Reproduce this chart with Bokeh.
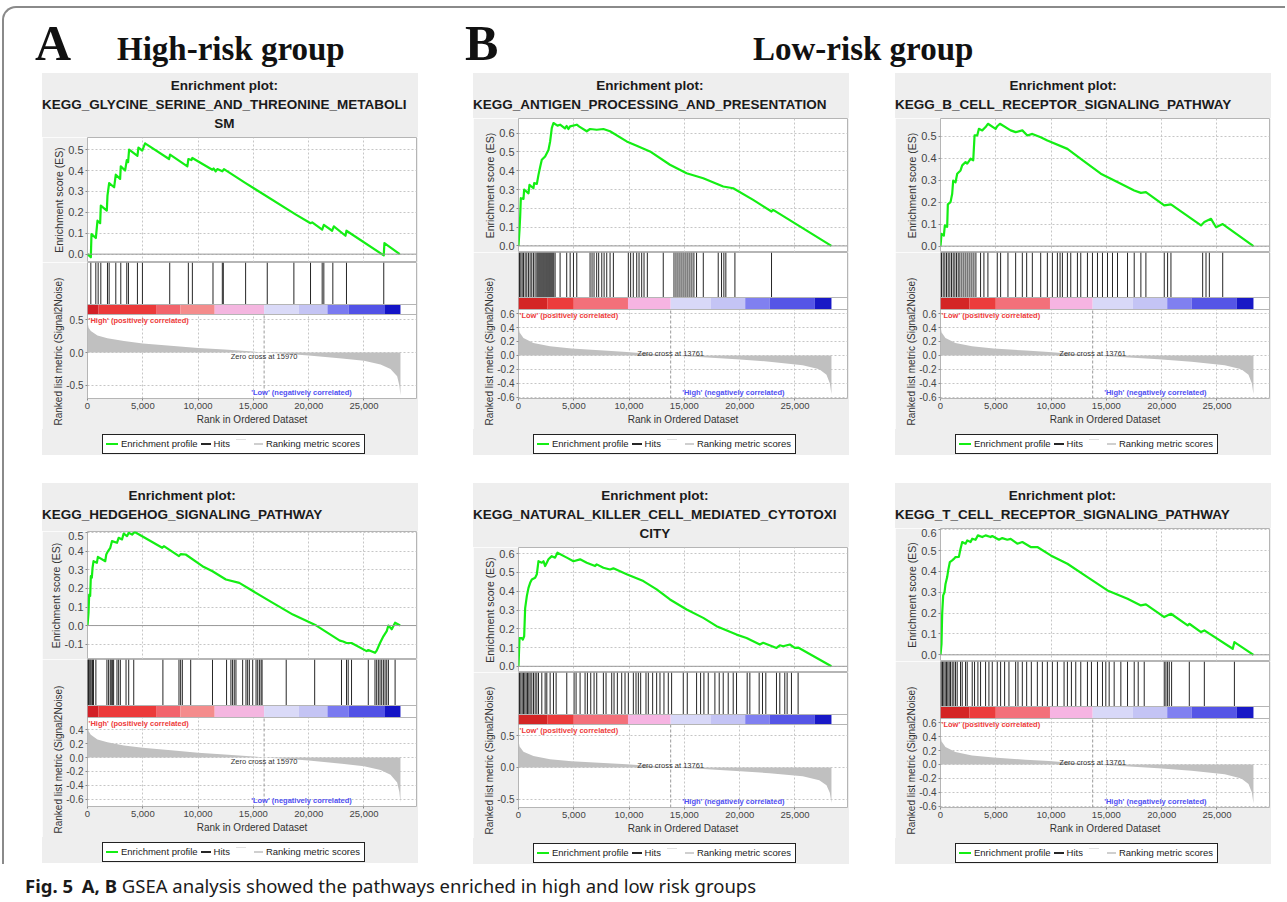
from bokeh.plotting import figure
from bokeh.models import (Range1d, Label, Span, SingleIntervalTicker,
                          NumeralTickFormatter, PrintfTickFormatter, Spacer, Div, Title)
from bokeh.layouts import column, row
from bokeh.embed import file_html
from bokeh.resources import INLINE

# ---------------------------------------------------------------- data
X_MAX = 29750
HIGH_ZERO_CROSS = 15970
LOW_ZERO_CROSS = 13761

HIGH_METRIC_RANK = [0, 100, 300, 900, 1800, 3300, 5000, 7800, 10000, 12400, 15000, 15970,
                    18800, 20000, 23000, 25000, 26500, 27400, 28000, 28200, 28300]
HIGH_METRIC_VALUE = [0.47, 0.38, 0.33, 0.26, 0.22, 0.175, 0.14, 0.10, 0.07, 0.045, 0.015, 0.0,
                     -0.028, -0.045, -0.09, -0.125, -0.18, -0.25, -0.36, -0.5, -0.65]
LOW_METRIC_RANK = [0, 100, 450, 1350, 2850, 4800, 7700, 9800, 13761, 16700, 19700, 22700,
                   25700, 27200, 27850, 28150, 28300]
LOW_METRIC_VALUE = [0.43, 0.33, 0.25, 0.18, 0.13, 0.10, 0.07, 0.05, 0.0, -0.025, -0.055, -0.09,
                    -0.14, -0.2, -0.28, -0.4, -0.56]

HIGH_BAND_EDGES = [0, 1000, 6200, 8400, 11500, 15970, 19100, 21700, 23600, 26900, 28300]
HIGH_BAND_COLORS = ["#d21f26", "#ec3a3a", "#f2646c", "#f48c8c", "#f4b6e0", "#dadaf8",
                    "#c4c4f4", "#7a7af0", "#5252e6", "#1414c6"]
LOW_BAND_EDGES = [0, 2600, 5000, 9900, 13761, 17400, 20500, 22700, 26800, 28300]
LOW_BAND_COLORS = ["#d42525", "#ec3c3c", "#f3707a", "#f6b4e2", "#d8d8f8", "#c4c4f5",
                   "#8080f0", "#5555e6", "#1818c6"]

X_TICKS_STEP = 5000

P1_TITLE = ["Enrichment plot:", "KEGG_GLYCINE_SERINE_AND_THREONINE_METABOLI", "SM"]
P1_ES_RANK = [0, 301, 361, 752, 903, 1144, 1204, 1746, 1806, 1956, 2408, 2558, 2950, 3010, 3400,
              3552, 3672, 3762, 4515, 4605, 4950, 5207, 7374, 7465, 9030, 9120, 9400, 9481, 11287,
              11400, 11588, 11739, 12190, 12341, 14297, 18812, 20167, 20317, 21220, 21371, 22123,
              22274, 23327, 23418, 26789, 26849, 28234]
P1_ES_VALUE = [0.0, -0.015, 0.096, 0.077, 0.16, 0.148, 0.232, 0.208, 0.28, 0.34, 0.32, 0.38, 0.36,
               0.42, 0.40, 0.45, 0.44, 0.50, 0.47, 0.51, 0.495, 0.53, 0.455, 0.476, 0.42, 0.455,
               0.45, 0.46, 0.404, 0.41, 0.396, 0.407, 0.396, 0.407, 0.34, 0.19, 0.148, 0.152,
               0.117, 0.14, 0.112, 0.133, 0.088, 0.112, -0.006, 0.053, 0.0]
P1_HITS = [301, 753, 963, 1204, 1806, 1957, 2559, 3010, 3552, 3702, 4515, 4967, 7435, 9120, 9482,
           11348, 12191, 12281, 14298, 16254, 18662, 20167, 21221, 21371, 22184, 23418, 26789]

P2_TITLE = ["Enrichment plot:", "KEGG_ANTIGEN_PROCESSING_AND_PRESENTATION"]
P2_ES_RANK = [0, 90, 150, 211, 450, 512, 903, 993, 1354, 1415, 1660, 1806, 1957, 2107, 2408, 2709,
              2860, 3010, 3160, 3522, 3762, 4200, 4360, 4515, 4666, 5268, 5500, 6170, 6472, 7074,
              7676, 8278, 9782, 10686, 11890, 13695, 15200, 16706, 18512, 19415, 21221, 22876,
              23027, 28294]
P2_ES_VALUE = [0.0, 0.085, 0.156, 0.254, 0.25, 0.30, 0.28, 0.325, 0.307, 0.334, 0.33, 0.378, 0.42,
               0.458, 0.476, 0.51, 0.556, 0.627, 0.654, 0.64, 0.645, 0.625, 0.638, 0.622, 0.636,
               0.645, 0.635, 0.61, 0.622, 0.618, 0.622, 0.61, 0.556, 0.533, 0.503, 0.432, 0.387,
               0.36, 0.316, 0.307, 0.245, 0.183, 0.192, 0.0]
P2_HITS = [90, 210, 330, 450, 600, 750, 900, 1050, 1200, 1350, 1500, 1660, 1750, 1840, 1930, 2020,
           2110, 2200, 2290, 2380, 2470, 2560, 2650, 2740, 2830, 2920, 3010, 3100, 3190, 3310, 3760,
           4360, 4670, 4970, 5270, 6470, 6650, 6830, 7070, 7250, 7530, 7740, 7980, 8280, 8580,
           9930, 10140, 10380, 10690, 10900, 11140, 11350, 11650, 13090, 14060, 14240, 14420,
           14600, 14780, 14960, 15140, 15320, 15500, 15680, 15860, 16100, 16710, 18060, 18360,
           18570, 18750, 19570, 22880]

P3_TITLE = ["Enrichment plot:", "KEGG_B_CELL_RECEPTOR_SIGNALING_PATHWAY"]
P3_ES_RANK = [0, 91, 302, 393, 604, 664, 906, 1057, 1148, 1359, 1510, 1812, 1963, 2265, 2416, 2718,
              2960, 3080, 3322, 3473, 3775, 4077, 4288, 4983, 5134, 5376, 6342, 6795, 7399, 7852,
              8305, 9060, 9664, 11476, 12684, 14496, 16308, 17516, 18120, 18573, 20234, 20838,
              23556, 23858, 24462, 24915, 25519, 28300]
P3_ES_VALUE = [0.0, 0.056, 0.048, 0.094, 0.088, 0.19, 0.2, 0.238, 0.298, 0.29, 0.329, 0.344, 0.367,
               0.382, 0.375, 0.397, 0.39, 0.503, 0.503, 0.533, 0.526, 0.541, 0.556, 0.533, 0.545,
               0.556, 0.526, 0.518, 0.526, 0.503, 0.51, 0.495, 0.48, 0.442, 0.397, 0.329, 0.283,
               0.253, 0.242, 0.245, 0.185, 0.19, 0.094, 0.11, 0.124, 0.086, 0.1, 0.0]
P3_HITS = [91, 242, 393, 544, 695, 846, 997, 1148, 1299, 1450, 1601, 1752, 1933, 2114, 2295, 2476,
           2658, 2839, 3020, 3201, 3624, 3926, 4288, 5134, 5436, 6100, 6795, 7399, 7792, 8305,
           9060, 9664, 10117, 10570, 10812, 11023, 11476, 11778, 12382, 12684, 13288, 13741,
           14194, 14647, 15100, 15553, 16006, 16912, 17516, 18120, 18573, 20234, 20536, 20838,
           23707, 24009, 24311, 25519]

P4_TITLE = ["Enrichment plot:", "KEGG_HEDGEHOG_SIGNALING_PATHWAY"]
P4_ES_RANK = [0, 91, 152, 242, 303, 394, 455, 545, 848, 939, 1606, 1697, 1848, 2060, 2212, 2666,
              2818, 3121, 3272, 3575, 3727, 4030, 4272, 6757, 6908, 8272, 8423, 8878, 10393, 11302,
              12514, 13726, 16756, 18574, 20695, 22816, 23119, 23422, 23876, 25240, 25391, 25997,
              26149, 26452, 26755, 27058, 27209, 27512, 27815, 28270]
P4_ES_VALUE = [0.0, 0.068, 0.167, 0.16, 0.266, 0.258, 0.311, 0.347, 0.338, 0.37, 0.347, 0.383, 0.40,
               0.419, 0.455, 0.446, 0.473, 0.464, 0.496, 0.482, 0.50, 0.49, 0.504, 0.419, 0.428,
               0.374, 0.385, 0.383, 0.32, 0.293, 0.248, 0.23, 0.122, 0.059, 0.0, -0.081, -0.086,
               -0.094, -0.094, -0.138, -0.132, -0.147, -0.135, -0.094, -0.058, -0.03, 0.0, -0.02,
               0.015, 0.0]
P4_HITS = [30, 91, 152, 242, 333, 455, 545, 758, 1757, 1909, 2060, 2151, 2273, 2363, 2666, 2818,
           2969, 3485, 3727, 4181, 6818, 8272, 8423, 8575, 9332, 11302, 12575, 12968, 13120, 13271,
           13423, 14029, 14332, 14483, 14635, 14938, 15241, 15392, 15544, 15695, 15786, 17968,
           20543, 22967, 23422, 23573, 23876, 25391, 25997, 26149, 26300, 26452, 26603, 26755,
           26906, 27058, 27209, 27815]

P5_TITLE = ["Enrichment plot:", "KEGG_NATURAL_KILLER_CELL_MEDIATED_CYTOTOXI", "CITY"]
P5_ES_RANK = [0, 90, 301, 391, 512, 602, 753, 903, 1054, 1204, 1505, 1656, 1806, 2107, 2258, 2408,
              2559, 2709, 3010, 3311, 3522, 4365, 4967, 5569, 6171, 6923, 7074, 7676, 8278, 8579,
              9783, 11288, 12492, 13696, 15201, 16706, 17910, 19716, 20619, 21823, 22124, 23328,
              23629, 23930, 24532, 24983, 25284, 28294]
P5_ES_VALUE = [0.0, 0.15, 0.15, 0.142, 0.16, 0.31, 0.374, 0.418, 0.445, 0.463, 0.472, 0.49, 0.56,
               0.552, 0.56, 0.534, 0.552, 0.57, 0.587, 0.579, 0.605, 0.579, 0.56, 0.57, 0.552,
               0.534, 0.543, 0.525, 0.516, 0.522, 0.49, 0.454, 0.41, 0.356, 0.303, 0.258, 0.214,
               0.169, 0.151, 0.116, 0.125, 0.098, 0.112, 0.107, 0.116, 0.098, 0.1, 0.0]
P5_HITS = [90, 211, 331, 452, 572, 692, 813, 933, 1054, 1204, 1355, 1505, 1656, 1806, 2107, 2408,
           2559, 2860, 3161, 3401, 4365, 5027, 5207, 5569, 6020, 6231, 6532, 6833, 7074, 7676,
           7916, 8428, 8639, 8940, 9331, 9632, 9933, 10385, 10626, 10836, 11047, 11528, 11739,
           12130, 12492, 12793, 13154, 13545, 13846, 14900, 15261, 16104, 16465, 16766, 17157,
           17759, 18150, 18512, 18963, 19415, 19716, 20679, 20920, 21762, 22063, 22364, 23328,
           23629, 24080, 24291, 24682, 25284]

P6_TITLE = ["Enrichment plot:", "KEGG_T_CELL_RECEPTOR_SIGNALING_PATHWAY"]
P6_ES_RANK = [0, 91, 151, 242, 362, 453, 604, 695, 846, 1057, 1208, 1359, 1661, 1812, 1963, 2265,
              2416, 2718, 2869, 3171, 3382, 3775, 4077, 4530, 4681, 5285, 5587, 6040, 6342, 6946,
              7399, 8154, 8758, 9966, 11476, 13288, 15100, 16912, 18120, 18573, 20234, 20838,
              22348, 22499, 23556, 23858, 26425, 26576, 28300]
P6_ES_VALUE = [0.0, 0.053, 0.197, 0.285, 0.30, 0.34, 0.373, 0.405, 0.445, 0.453, 0.46, 0.469,
               0.47, 0.509, 0.541, 0.533, 0.549, 0.541, 0.557, 0.552, 0.573, 0.565, 0.573, 0.565,
               0.57, 0.552, 0.56, 0.552, 0.556, 0.533, 0.541, 0.517, 0.517, 0.477, 0.437, 0.373,
               0.309, 0.269, 0.237, 0.242, 0.181, 0.197, 0.141, 0.149, 0.109, 0.117, 0.029, 0.061,
               0.0]
P6_HITS = [60, 181, 302, 423, 544, 664, 785, 906, 1057, 1208, 1359, 1510, 1812, 1963, 2265, 2416,
           2869, 3080, 3382, 3624, 4077, 4379, 4681, 5134, 5436, 5798, 6191, 6795, 7006, 7399,
           7792, 8214, 8758, 9211, 9664, 10117, 10570, 11174, 11476, 11838, 12231, 12684, 13288,
           13650, 14194, 14647, 14949, 15251, 15704, 16308, 16912, 17516, 17878, 18422, 20234,
           20385, 20536, 20687, 20898, 22499, 23858, 26576]

HIGH_LABELS = ("'High' (positively correlated)", "'Low' (negatively correlated)")
LOW_LABELS = ("'Low' (positively correlated)", "'High' (negatively correlated)")
LEGEND_LABELS = ["Enrichment profile", "Hits", "Ranking metric scores"]

HEADER_TEXTS = ["A", "High-risk group", "B", "Low-risk group"]
CAPTION_BOLD = ["Fig. 5", "A, B"]
CAPTION_TEXT = "GSEA analysis showed the pathways enriched in high and low risk groups"

# ---------------------------------------------------------------- style / layout
FONT = "Liberation Sans"
GREEN = "#14ee14"
PANEL_BG = "#eeeeee"
GRID = "#c6c6c6"
OUTLINE = "#b5b5b5"
HIT_COLOR = "#262626"
METRIC_COLOR = "#c0c0c0"
PANEL_W = 376
LEFT = 45
FRAME_W = 329
RIGHT = PANEL_W - LEFT - FRAME_W
AXIS_B = 31
LEGEND_H = 26


def style_grid(p):
    for g in p.grid:
        g.grid_line_color = GRID
        g.grid_line_dash = "2 2"
        g.grid_line_width = 1


def style_axis(ax, tick_size):
    ax.axis_line_color = None
    ax.major_tick_out = 2
    ax.major_tick_in = 0
    ax.minor_tick_line_color = None
    ax.major_tick_line_color = "#8a8a8a"
    ax.major_label_text_font = FONT
    ax.major_label_text_font_size = tick_size
    ax.major_label_text_color = "#444444"
    ax.major_label_standoff = 2
    ax.axis_label_text_font = FONT
    ax.axis_label_text_font_size = "10px"
    ax.axis_label_text_font_style = "normal"
    ax.axis_label_text_color = "#333333"


def base_fig(**kw):
    p = figure(toolbar_location=None, output_backend="svg", **kw)
    p.background_fill_color = "white"
    p.border_fill_color = PANEL_BG
    p.outline_line_color = OUTLINE
    return p


def title_div(lines, h):
    html = ('<div style="padding-top:3px;text-align:center;white-space:nowrap;'
            "font-family:'Liberation Sans',Arial,sans-serif;font-weight:bold;font-size:13.5px;"
            'line-height:19px;color:#1a1a1a;">' + "<br>".join(lines) + "</div>")
    return Div(text=html, width=PANEL_W, height=h, margin=0,
               styles={"background-color": PANEL_BG})


def legend_div():
    def mark(color, w, h, ml, extra=""):
        return ('<span style="display:inline-block;width:%dpx;height:%spx;background:%s;'
                'margin-left:%dpx;margin-right:3px;%s"></span>' % (w, h, color, ml, extra))
    inner = (mark(GREEN, 12, "2", 0) + LEGEND_LABELS[0] +
             mark(HIT_COLOR, 10, "1.5", 3) + LEGEND_LABELS[1] +
             mark("#e2e2e2", 10, "1", 6, "position:relative;top:-5px;") +
             mark("#cfcfcf", 9, "1.5", 5) + LEGEND_LABELS[2])
    html = ('<div style="position:relative;height:%dpx;">'
            '<div style="position:absolute;left:60px;top:5px;height:20px;box-sizing:border-box;'
            'border:1.5px solid #222;background:#ffffff;padding:0 4px 0 3px;display:flex;'
            "align-items:center;white-space:nowrap;font-family:'Liberation Sans',Arial,sans-serif;"
            'font-size:9.5px;color:#222;">%s</div></div>' % (LEGEND_H, inner))
    return Div(text=html, width=PANEL_W, height=LEGEND_H, margin=0,
               styles={"background-color": PANEL_BG})


def make_panel(title, es_rank, es_val, hits, kind, lay):
    title_h, es_h, es_lo, es_hi, met_h, hits_px, bar_px, m_lo, m_hi, m_int = lay
    if kind == "high":
        m_rank, m_val, zc = HIGH_METRIC_RANK, HIGH_METRIC_VALUE, HIGH_ZERO_CROSS
        edges, colors, labels, zc_dy = HIGH_BAND_EDGES, HIGH_BAND_COLORS, HIGH_LABELS, -4
    else:
        m_rank, m_val, zc = LOW_METRIC_RANK, LOW_METRIC_VALUE, LOW_ZERO_CROSS
        edges, colors, labels, zc_dy = LOW_BAND_EDGES, LOW_BAND_COLORS, LOW_LABELS, 2

    xr = Range1d(0, X_MAX)
    td = title_div(title, title_h)

    # enrichment score plot
    ef = base_fig(width=PANEL_W, height=es_h, x_range=xr, y_range=Range1d(es_lo, es_hi),
                  min_border_left=LEFT, min_border_right=RIGHT, min_border_top=0, min_border_bottom=0)
    ef.xaxis.visible = False
    ef.xaxis.ticker = SingleIntervalTicker(interval=X_TICKS_STEP, num_minor_ticks=0)
    ef.yaxis.ticker = SingleIntervalTicker(interval=0.1, num_minor_ticks=0)
    ef.yaxis.formatter = PrintfTickFormatter(format="%.1f")
    ef.yaxis.axis_label = "Enrichment score (ES)"
    style_axis(ef.yaxis[0], "11px")
    ef.yaxis.axis_label_text_font_size = "10.5px"
    ef.yaxis.axis_label_standoff = 0
    style_grid(ef)
    ef.add_layout(Span(location=0, dimension="width", line_color="#9a9a9a", line_width=1))
    ef.line(es_rank, es_val, line_color=GREEN, line_width=2.2, line_join="round")

    # hits + colour bar + ranked metric
    upp = (m_hi - m_lo) / (met_h - hits_px - bar_px)
    bar_top = m_hi + bar_px * upp
    y_top = bar_top + hits_px * upp
    mf = base_fig(width=PANEL_W, height=met_h + AXIS_B, x_range=xr, y_range=Range1d(m_lo, y_top),
                  min_border_left=LEFT, min_border_right=RIGHT, min_border_top=0,
                  min_border_bottom=AXIS_B)
    mf.xaxis.ticker = SingleIntervalTicker(interval=X_TICKS_STEP, num_minor_ticks=0)
    mf.xaxis.formatter = NumeralTickFormatter(format="0,0")
    mf.xaxis.axis_label = "Rank in Ordered Dataset"
    style_axis(mf.xaxis[0], "9.5px")
    mf.xaxis.axis_label_standoff = 2
    mf.yaxis.ticker = SingleIntervalTicker(interval=m_int, num_minor_ticks=0)
    mf.yaxis.formatter = PrintfTickFormatter(format="%.1f")
    mf.yaxis.bounds = (m_lo, m_hi)
    style_axis(mf.yaxis[0], "10px")
    mf.add_layout(Title(text="Ranked list metric (Signal2Noise)", align="left", offset=-27,
                        standoff=0, text_font=FONT, text_font_size="10px",
                        text_font_style="normal", text_color="#333333"), "left")
    style_grid(mf)
    for g in mf.xgrid:
        if "cross_bounds" in g.properties():
            g.cross_bounds = (m_lo, m_hi)

    mf.varea(x=m_rank, y1=0, y2=m_val, fill_color=METRIC_COLOR)
    mf.quad(left=edges[:-1], right=edges[1:], bottom=m_hi, top=bar_top, fill_color=colors,
            line_color=None)
    mf.segment(x0=hits, x1=hits, y0=bar_top, y1=y_top, line_color=HIT_COLOR, line_width=1)
    mf.add_layout(Span(location=m_hi, dimension="width", line_color=OUTLINE, line_width=1))
    mf.add_layout(Span(location=bar_top, dimension="width", line_color=OUTLINE, line_width=1))
    mf.segment(x0=[zc], x1=[zc], y0=[m_lo], y1=[m_hi], line_color="#9a9a9a", line_dash="3 2",
               line_width=1)
    mf.add_layout(Label(x=zc, y=0, y_offset=zc_dy, text="Zero cross at %d" % zc, text_align="center",
                        text_baseline="middle", text_font=FONT, text_font_size="7.5px",
                        text_color="#333333"))
    mf.add_layout(Label(x=100, y=m_hi, y_offset=-1, text=labels[0], text_align="left",
                        text_baseline="top", text_font=FONT, text_font_style="bold",
                        text_font_size="7.5px", text_color="#ee3a3a"))
    mf.add_layout(Label(x=14800, y=m_lo, y_offset=2, text=labels[1], text_align="left",
                        text_baseline="bottom", text_font=FONT, text_font_style="bold",
                        text_font_size="7.5px", text_color="#4f4ff2"))
    return column(td, ef, mf, legend_div(), spacing=0)


P1 = make_panel(P1_TITLE, P1_ES_RANK, P1_ES_VALUE, P1_HITS, "high",
                (64, 125, -0.040, 0.558, 136, 42, 10, -0.70, 0.58, 0.5))
P2 = make_panel(P2_TITLE, P2_ES_RANK, P2_ES_VALUE, P2_HITS, "low",
                (45, 134, -0.035, 0.678, 146, 45, 12, -0.62, 0.66, 0.2))
P3 = make_panel(P3_TITLE, P3_ES_RANK, P3_ES_VALUE, P3_HITS, "low",
                (45, 134, -0.029, 0.580, 146, 45, 12, -0.62, 0.66, 0.2))
P4 = make_panel(P4_TITLE, P4_ES_RANK, P4_ES_VALUE, P4_HITS, "high",
                (48, 128, -0.183, 0.507, 147, 46, 12, -0.708, 0.578, 0.2))
P5 = make_panel(P5_TITLE, P5_ES_RANK, P5_ES_VALUE, P5_HITS, "low",
                (64, 125, -0.033, 0.633, 135, 42, 10, -0.632, 0.679, 0.5))
P6 = make_panel(P6_TITLE, P6_ES_RANK, P6_ES_VALUE, P6_HITS, "low",
                (45, 133, -0.032, 0.606, 146, 45, 12, -0.619, 0.662, 0.2))

HEAD_W = 1281

# header (A / B group titles)
spans = []
for txt, x, size, top in zip(HEADER_TEXTS, [31, 113, 461, 749], [50, 33, 50, 33], [10, 25, 10, 25]):
    spans.append('<span style="position:absolute;left:%dpx;top:%dpx;font-size:%dpx;'
                 'line-height:%dpx;">%s</span>' % (x, top, size, size, txt))
header = Div(text=('<div style="position:relative;width:%dpx;height:65px;'
                   "font-family:'Liberation Serif','Times New Roman',serif;font-weight:bold;"
                   'color:#111111;">' % HEAD_W) + "".join(spans) + "</div>",
             width=HEAD_W, height=65, margin=0)

caption = Div(text=('<div style="padding:12px 0 0 25px;white-space:nowrap;'
                    "font-family:'Noto Sans',sans-serif;font-size:18.5px;line-height:20px;"
                    'color:#1a1a1a;"><b style="margin-right:4px">%s</b> <b>%s</b> %s</div>'
                    % (CAPTION_BOLD[0], CAPTION_BOLD[1], CAPTION_TEXT)),
              width=1280, height=30, margin=0)


def sp(w, h):
    return Spacer(width=w, height=h, margin=0)


row1 = row(sp(38, 10), P1, sp(55, 10), P2, sp(46, 10), P3, spacing=0)
row2 = row(sp(38, 10), P4, sp(55, 10), P5, sp(46, 10), P6, spacing=0)
framed = column(header, row1, sp(10, 28), row2, spacing=0,
                styles={"border-top": "2px solid #8a8a8a", "border-left": "2px solid #8a8a8a",
                        "border-top-left-radius": "14px"})
root = column(sp(10, 6), row(sp(2, 10), framed, spacing=0), caption, spacing=0)

with open("out.html", "w") as f:
    f.write(file_html(root, INLINE, title="GSEA"))
